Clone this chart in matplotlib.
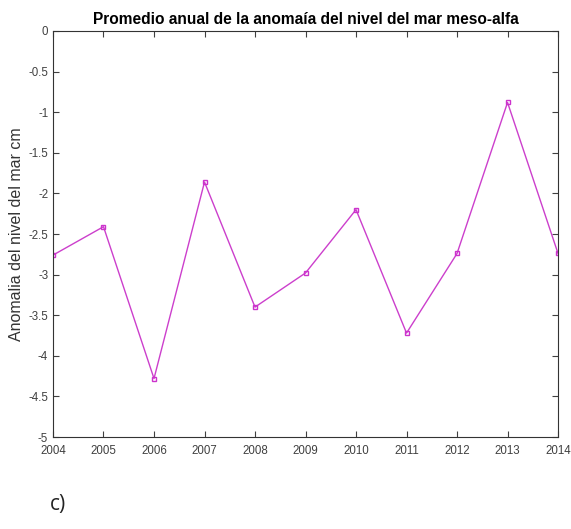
import matplotlib
matplotlib.use('Agg')
import matplotlib.pyplot as plt

plt.rcParams['font.family'] = ['Liberation Sans', 'DejaVu Sans']

# Annual mean sea level anomaly (cm)
years = [2004, 2005, 2006, 2007, 2008, 2009, 2010, 2011, 2012, 2013, 2014]
anomaly = [-2.76, -2.41, -4.28, -1.86, -3.40, -2.98, -2.20, -3.72, -2.74, -0.88, -2.74]
y_ticks = [0, -0.5, -1, -1.5, -2, -2.5, -3, -3.5, -4, -4.5, -5]
y_tick_labels = ['0', '-0.5', '-1', '-1.5', '-2', '-2.5', '-3', '-3.5', '-4', '-4.5', '-5']

fig = plt.figure(figsize=(5.71, 5.29), dpi=100)
ax = fig.add_axes([0.0928, 0.1739, 0.8845, 0.7675])

ax.plot(years, anomaly, color='#cc3fcc', linewidth=1.0, marker='s',
        markersize=3.5, markerfacecolor='none', markeredgecolor='#cc33cc',
        markeredgewidth=1.0)

ax.set_xlim(2004, 2014)
ax.set_ylim(-5, 0)
ax.set_xticks(years)
ax.set_xticklabels([str(y) for y in years])
ax.set_yticks(y_ticks)
ax.set_yticklabels(y_tick_labels)

ax.tick_params(direction='in', top=True, right=True, length=4, width=0.8,
               labelsize=8.3, colors='#404040', labelcolor='#404040')
ax.tick_params(axis='x', pad=6)
for s in ax.spines.values():
    s.set_color('#333333')
    s.set_linewidth(0.8)

ax.set_title('Promedio anual de la anomaía del nivel del mar meso-alfa',
             fontsize=11.2, fontweight='bold', pad=5)
ax.set_ylabel('Anomalia del nivel del mar cm', fontsize=11.5, color='#333333',
              labelpad=3)

fig.text(0.088, 0.035, 'c)', fontsize=15, color='#222222', family=['Open Sans', 'DejaVu Sans'])

fig.savefig('out.png', dpi=100, facecolor='white')
